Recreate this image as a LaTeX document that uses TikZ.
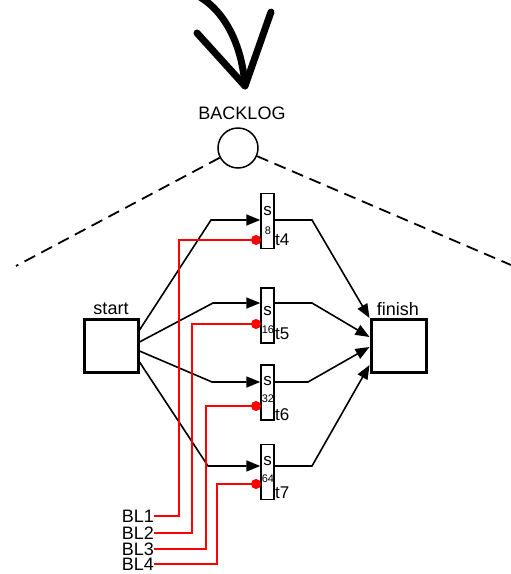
\documentclass[tikz,border=0pt]{standalone}
\usepackage{fontspec}
\setmainfont{Liberation Sans}
\usetikzlibrary{arrows.meta}
\begin{document}
\begin{tikzpicture}[x=1pt,y=-1pt,
  conn/.style={line width=1.6pt,-{Triangle[length=14pt,width=11pt]}},
  plain/.style={line width=1.6pt},
  place/.style={draw,line width=3pt,minimum width=54pt,minimum height=53pt,inner sep=0pt},
  trans/.style={draw,line width=1.5pt,minimum width=13pt,minimum height=55pt,inner sep=0pt,fill=white},
  lbl/.style={font=\fontsize{18}{20}\selectfont,inner sep=0pt},
  sym/.style={font=\fontsize{17}{18}\selectfont,inner sep=0pt},
  num/.style={font=\fontsize{11}{12}\selectfont,inner sep=0pt},
  tl/.style={font=\fontsize{17}{18}\selectfont,inner sep=0pt,anchor=west},
  bl/.style={font=\fontsize{18}{18}\selectfont,inner sep=0pt,anchor=east},
  dot/.style={circle,fill=red,inner sep=0pt,minimum size=10pt},
  redl/.style={red,line width=1.5pt},
  dashln/.style={line width=1.8pt,dash pattern=on 12pt off 7pt},
  bigarrow/.style={line width=7pt,line cap=round,line join=round}]
\useasboundingbox (0,0) rectangle (511,574);

% big arrow at top
\coordinate (tip) at (245,86);
\coordinate (arcstart) at (200,-3);
\coordinate (armL) at (197,33);
\coordinate (armR) at (271,12);
\draw[bigarrow] (arcstart) .. controls (225,12) and (242,45) .. (tip);
\draw[bigarrow] (armL) -- (tip) -- (armR);

% backlog place
\node[lbl] (backlogtxt) at (242,113) {BACKLOG};
\node[circle,draw,line width=1.5pt,minimum size=40pt,inner sep=0pt] (backlog) at (238,148) {};
\coordinate (dl) at (16,266);
\coordinate (dr) at (511,265);
\draw[dashln] (backlog) -- (dl);
\draw[dashln] (backlog) -- (dr);

% places
\node[place] (start) at (111,345.5) {};
\node[lbl] (starttxt) at (111,309) {start};
\node[place,minimum width=55pt] (finish) at (398.5,345.5) {};
\node[lbl] (finishtxt) at (398,309) {finish};

% transitions
\node[trans] (t4) at (267.5,221) {};
\node[trans] (t5) at (267.5,315.5) {};
\node[trans] (t6) at (267.5,392.5) {};
\node[trans] (t7) at (267.5,472) {};

\node[sym] (s4) at (267.5,211) {s};
\node[sym] (s5) at (267.5,311) {s};
\node[sym] (s6) at (267.5,381) {s};
\node[sym] (s7) at (267.5,461) {s};

\node[num] (n4) at (268,231) {8};
\node[num] (n5) at (268,330) {16};
\node[num] (n6) at (268,399) {32};
\node[num] (n7) at (268,479) {64};

\node[tl] (l4) at (275,240) {t4};
\node[tl] (l5) at (275,334) {t5};
\node[tl] (l6) at (275,415) {t6};
\node[tl] (l7) at (275,493) {t7};

% input arcs
\draw[conn] (start.east |- 0,330) -- (211,220) -- (t4.west |- 0,220);
\draw[conn] (start.east |- 0,342) -- (213,303) -- (t5.west |- 0,303);
\draw[conn] (start.east |- 0,351) -- (212,382) -- (t6.west |- 0,382);
\draw[conn] (start.east |- 0,362) -- (208,466) -- (t7.west |- 0,466);

% output arcs
\draw[conn] (t4.east |- 0,220) -- (312,220) -- (finish.west |- 0,318);
\draw[conn] (t5.east |- 0,303) -- (312,303) -- (finish.west |- 0,337);
\draw[conn] (t6.east |- 0,382) -- (308,382) -- (finish.west |- 0,347);
\draw[conn] (t7.east |- 0,466) -- (312,466) -- (finish.west |- 0,365);

% inhibitor (red) lines
\node[bl] (bl1) at (154,516) {BL1};
\node[bl] (bl2) at (154,533) {BL2};
\node[bl] (bl3) at (154,549) {BL3};
\node[bl] (bl4) at (154,564) {BL4};

\draw[redl] (256,240) -- (179,240) |- (bl1.east);
\draw[redl] (256,324) -- (192,324) |- (bl2.east);
\draw[redl] (256,406) -- (206,406) |- (bl3.east);
\draw[redl] (256,484) -- (217,484) |- (bl4.east);

\node[dot] (d4) at (256,240) {};
\node[dot] (d5) at (256,324) {};
\node[dot] (d6) at (256,406) {};
\node[dot] (d7) at (256,484) {};
\end{tikzpicture}
\end{document}
